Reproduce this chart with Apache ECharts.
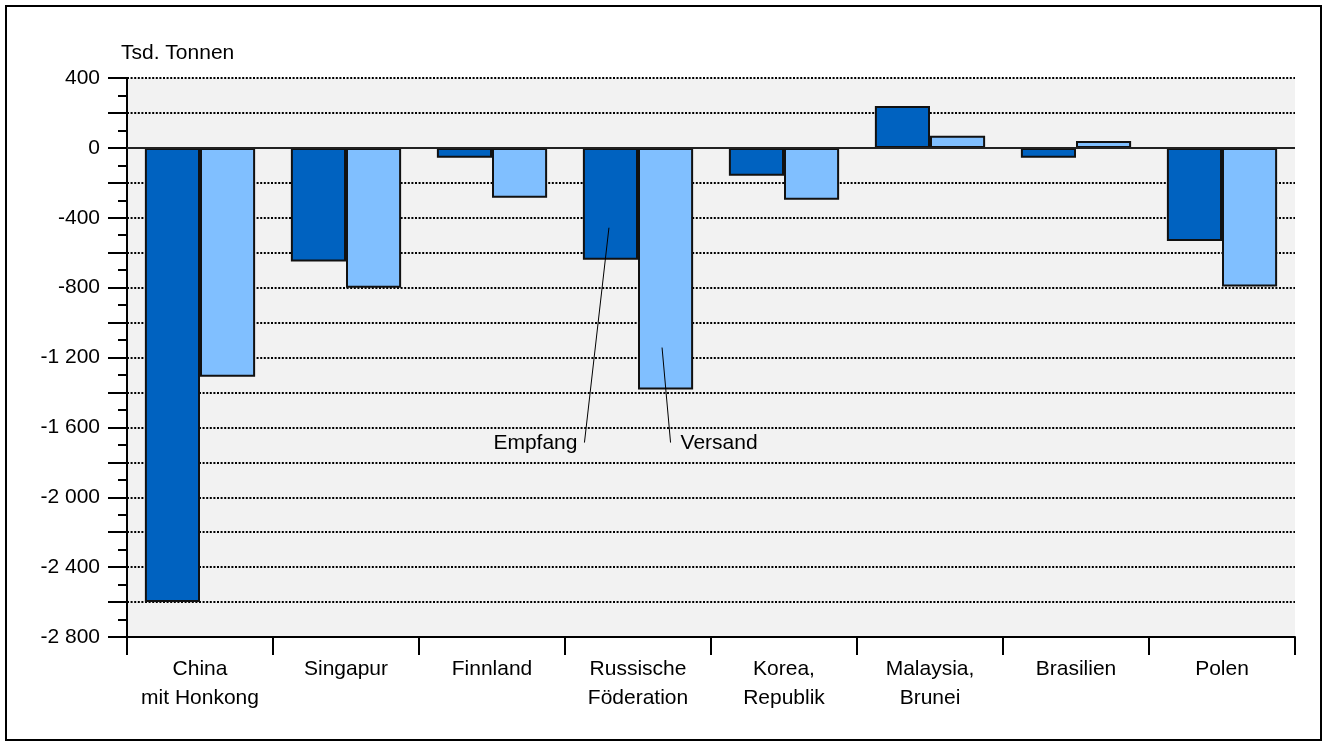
<!DOCTYPE html>
<html>
<head>
<meta charset="utf-8">
<script src="https://cdn.jsdelivr.net/npm/echarts@6/dist/echarts.min.js"></script>
<style>
html,body{margin:0;padding:0;background:#fff;}
#c{width:1324px;height:744px;}
</style>
</head>
<body>
<div id="c"></div>
<script>
const categories = ['China\nmit Honkong','Singapur','Finnland','Russische\nFöderation','Korea,\nRepublik','Malaysia,\nBrunei','Brasilien','Polen'];
const empfang = [-2600, -650, -57, -640, -160, 240, -57, -533];
const versand = [-1310, -800, -286, -1383, -297, 69, 40, -793];
const seriesNames = ['Empfang', 'Versand'];
const yAxisTitle = 'Tsd. Tonnen';
const annotatedCategory = 3;
const FONT = "'Liberation Sans', Arial, sans-serif";
const FS = 21;

function fmt(v){
  const s = String(Math.abs(v)).replace(/\B(?=(\d{3})+(?!\d))/g, ' ');
  return (v < 0 ? '-' : '') + s;
}

const chart = echarts.init(document.getElementById('c'), null, {renderer:'canvas'});
const frame = {type: 'rect', shape: {x: 6, y: 6, width: 1315, height: 734}, style: {fill: 'none', stroke: '#000', lineWidth: 2}, silent: true};
const option = {
  animation: false,
  backgroundColor: '#fff',
  textStyle: {fontFamily: FONT},
  title: {
    text: yAxisTitle, left: 121, top: 43, padding: 0,
    textStyle: {fontFamily: FONT, fontSize: FS, fontWeight: 'normal', color: '#000', lineHeight: 20}
  },
  grid: {left: 127, right: 29, top: 78, bottom: 107, show: true, backgroundColor: '#f2f2f2', borderWidth: 0},
  xAxis: {
    type: 'category', data: categories, position: 'bottom',
    axisLine: {onZero: false, lineStyle: {color: '#000', width: 2}},
    axisTick: {show: true, length: 18, lineStyle: {color: '#000', width: 2}},
    axisLabel: {color: '#000', fontFamily: FONT, fontSize: FS, lineHeight: 29, margin: 18, interval: 0},
    splitLine: {show: false}
  },
  yAxis: {
    type: 'value', min: -2800, max: 400, interval: 200,
    axisLine: {show: true, lineStyle: {color: '#000', width: 2}},
    axisTick: {show: true, length: 19, lineStyle: {color: '#000', width: 2}},
    minorTick: {show: true, splitNumber: 2, length: 9, lineStyle: {color: '#000', width: 2}},
    axisLabel: {color: '#000', fontFamily: FONT, fontSize: FS, margin: 27,
      formatter: v => (v % 400 === 0 ? fmt(v) : '')},
    splitLine: {show: true, lineStyle: {color: '#000', width: 2, type: [2, 1.6]}}
  },
  series: [
    {
      name: seriesNames[0], type: 'bar', data: empfang,
      barGap: '0%', barCategoryGap: '24.5%',
      itemStyle: {color: '#0062C0', borderColor: '#111', borderWidth: 2},
      markLine: {
        silent: true, symbol: 'none', label: {show: false},
        lineStyle: {color: '#222', width: 2, type: 'solid'},
        data: [{yAxis: 0}]
      }
    },
    {
      name: seriesNames[1], type: 'bar', data: versand,
      itemStyle: {color: '#80BFFF', borderColor: '#111', borderWidth: 2}
    }
  ],
  graphic: [frame]
};
chart.setOption(option);

// Annotation leader lines placed through the chart's own scales
const P = (i, v) => chart.convertToPixel({xAxisIndex: 0, yAxisIndex: 0}, [i, v]);
const catW = P(1, 0)[0] - P(0, 0)[0];
const bw = catW * (1 - 0.245) / 2;
const cx = P(annotatedCategory, 0)[0];
const eC = cx - bw / 2, vC = cx + bw / 2;
const yTopE = P(annotatedCategory, -457)[1];
const yTopV = P(annotatedCategory, -1143)[1];
const yBot = P(annotatedCategory, -1687)[1];
const yTxt = yBot + 0.5;
const tfont = FS + "px 'Liberation Sans', Arial, sans-serif";
chart.setOption({
  graphic: [
    frame,
    {type: 'line', shape: {x1: eC - 1.5, y1: yTopE, x2: eC - 26, y2: yBot}, style: {stroke: '#000', lineWidth: 1}, z: 100},
    {type: 'line', shape: {x1: vC - 3.5, y1: yTopV, x2: vC + 5, y2: yBot}, style: {stroke: '#000', lineWidth: 1}, z: 100},
    {type: 'text', x: eC - 33, y: yTxt, style: {text: seriesNames[0], font: tfont, fill: '#000', align: 'right', verticalAlign: 'middle'}, z: 100},
    {type: 'text', x: vC + 15, y: yTxt, style: {text: seriesNames[1], font: tfont, fill: '#000', align: 'left', verticalAlign: 'middle'}, z: 100}
  ]
});
</script>
</body>
</html>
